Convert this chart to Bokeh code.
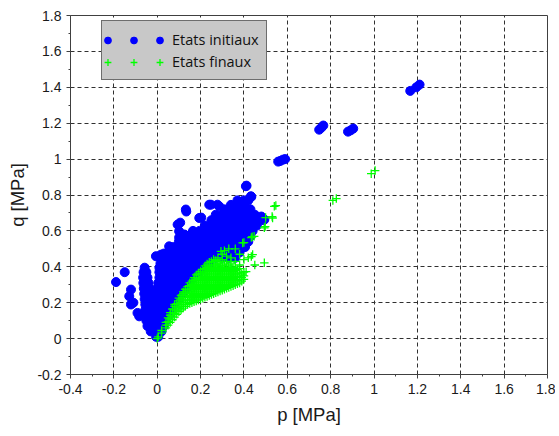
from bokeh.plotting import figure
from bokeh.models import (Range1d, FixedTicker, Legend, LegendItem,
                          CustomJSTickFormatter)
from bokeh.embed import file_html
from bokeh.resources import INLINE

# ---------------- ticks ----------------
x_ticks = [-0.4, -0.2, 0, 0.2, 0.4, 0.6, 0.8, 1, 1.2, 1.4, 1.6, 1.8]
x_minor = [-0.3, -0.1, 0.1, 0.3, 0.5, 0.7, 0.9, 1.1, 1.3, 1.5, 1.7]
y_ticks = [-0.2, 0, 0.2, 0.4, 0.6, 0.8, 1, 1.2, 1.4, 1.6, 1.8]
y_minor = [-0.1, 0.1, 0.3, 0.5, 0.7, 0.9, 1.1, 1.3, 1.5, 1.7]

series_names = ["Etats initiaux", "Etats finaux"]

# ---------------- "Etats initiaux" (blue) : dense cloud, row by row ----------------
blue_row_q = [0.01, 0.04, 0.07, 0.10, 0.13, 0.16, 0.19, 0.22, 0.25, 0.28, 0.31,
              0.34, 0.37, 0.395, 0.42, 0.45, 0.48, 0.51, 0.54, 0.57, 0.60, 0.63,
              0.66, 0.69, 0.72, 0.745, 0.77]
blue_row_p = [
    [-0.005, 0.005],
    [-0.03, 0.0, 0.02],
    [-0.045, -0.015, 0.015, 0.03],
    [-0.05, -0.02, 0.01, 0.04],
    [-0.055, -0.025, 0.005, 0.035, 0.055],
    [-0.055, -0.025, 0.005, 0.035, 0.065],
    [-0.055, -0.025, 0.005, 0.035, 0.065, 0.08],
    [-0.058, -0.028, 0.002, 0.032, 0.062, 0.09, 0.1],
    [-0.06, -0.03, 0.0, 0.03, 0.06, 0.09, 0.115],
    [-0.062, -0.035, 0.0, 0.03, 0.06, 0.09, 0.12, 0.135],
    [-0.064, -0.04, 0.005, 0.035, 0.065, 0.095, 0.125, 0.15],
    [-0.065, -0.045, 0.01, 0.04, 0.07, 0.1, 0.13, 0.16, 0.17],
    [-0.063, -0.05, 0.01, 0.04, 0.07, 0.1, 0.13, 0.16, 0.19],
    [-0.058, 0.01, 0.04, 0.07, 0.1, 0.13, 0.16, 0.19, 0.21],
    [0.015, 0.045, 0.075, 0.105, 0.135, 0.165, 0.195, 0.225, 0.24],
    [0.03, 0.06, 0.09, 0.12, 0.15, 0.18, 0.21, 0.24, 0.27, 0.30, 0.33, 0.36],
    [0.05, 0.08, 0.11, 0.14, 0.17, 0.20, 0.23, 0.26, 0.29, 0.32, 0.35, 0.38],
    [0.075, 0.105, 0.135, 0.165, 0.195, 0.225, 0.255, 0.285, 0.315, 0.345, 0.375, 0.405],
    [0.1, 0.13, 0.16, 0.19, 0.22, 0.25, 0.28, 0.31, 0.34, 0.37, 0.40, 0.42],
    [0.14, 0.17, 0.2, 0.23, 0.26, 0.29, 0.32, 0.35, 0.38, 0.41, 0.43],
    [0.165, 0.195, 0.225, 0.255, 0.285, 0.315, 0.345, 0.375, 0.405, 0.44],
    [0.22, 0.25, 0.28, 0.31, 0.34, 0.37, 0.40, 0.43, 0.46],
    [0.25, 0.28, 0.31, 0.34, 0.37, 0.40, 0.43, 0.46, 0.49],
    [0.27, 0.30, 0.33, 0.36, 0.39, 0.42, 0.45],
    [0.31, 0.34, 0.37, 0.40, 0.43],
    [0.34, 0.37, 0.40],
    [0.37, 0.40, 0.42],
]
# isolated blue states
blue_extra_p = [-0.19, -0.15, -0.121, -0.129, -0.121, -0.11, -0.091, -0.083,
                -0.006, 0.018, 0.032, 0.055,
                0.094, 0.101, 0.106, 0.101, 0.117, 0.125, 0.155,
                0.132, 0.134, 0.194, 0.203, 0.248,
                0.24, 0.248, 0.278, 0.286,
                0.409, 0.412, 0.432, 0.434, 0.447, 0.457, 0.48, 0.494,
                0.558, 0.568, 0.58, 0.59,
                0.747, 0.757, 0.766,
                0.88, 0.892, 0.904,
                1.167, 1.195, 1.21]
blue_extra_q = [0.315, 0.37, 0.273, 0.236, 0.19, 0.20, 0.143, 0.124,
                0.459, 0.468, 0.474, 0.514,
                0.635, 0.598, 0.646, 0.563, 0.57, 0.58, 0.58,
                0.719, 0.708, 0.672, 0.674, 0.626,
                0.746, 0.746, 0.746, 0.737,
                0.849, 0.852, 0.793, 0.79, 0.672, 0.674, 0.68, 0.663,
                0.986, 0.99, 0.997, 1.0,
                1.164, 1.175, 1.187,
                1.153, 1.16, 1.17,
                1.38, 1.40, 1.415]

# ---------------- "Etats finaux" (green) : dense band, column by column ----------------
green_col_p = [0.02, 0.04, 0.06, 0.08, 0.10, 0.12, 0.14, 0.16, 0.18, 0.20,
               0.22, 0.24, 0.26, 0.28, 0.30, 0.32, 0.34, 0.36, 0.38, 0.40]
green_col_q = [
    [0.03, 0.045],
    [0.06, 0.075, 0.09],
    [0.09, 0.11, 0.13, 0.145],
    [0.12, 0.14, 0.16, 0.18, 0.19],
    [0.15, 0.17, 0.19, 0.21, 0.225],
    [0.17, 0.19, 0.21, 0.23, 0.25, 0.26],
    [0.19, 0.21, 0.23, 0.25, 0.27, 0.29],
    [0.20, 0.22, 0.24, 0.26, 0.28, 0.30, 0.32],
    [0.21, 0.23, 0.25, 0.27, 0.29, 0.31, 0.33, 0.355],
    [0.22, 0.24, 0.26, 0.28, 0.30, 0.32, 0.34, 0.36, 0.375],
    [0.23, 0.25, 0.27, 0.29, 0.31, 0.33, 0.35, 0.37, 0.39, 0.405],
    [0.24, 0.26, 0.28, 0.30, 0.32, 0.34, 0.36, 0.38, 0.40, 0.425],
    [0.25, 0.27, 0.29, 0.31, 0.33, 0.35, 0.37, 0.39, 0.41, 0.44],
    [0.26, 0.28, 0.30, 0.32, 0.34, 0.36, 0.38, 0.40, 0.42, 0.45],
    [0.27, 0.29, 0.31, 0.33, 0.35, 0.37, 0.39, 0.41, 0.44, 0.47],
    [0.28, 0.30, 0.32, 0.34, 0.36, 0.38, 0.40, 0.43, 0.46],
    [0.29, 0.31, 0.33, 0.35, 0.37, 0.39, 0.42, 0.45],
    [0.30, 0.32, 0.34, 0.36, 0.38, 0.40, 0.43],
    [0.31, 0.33, 0.35, 0.37, 0.39, 0.41],
    [0.33, 0.35, 0.37],
]
# interleaved green states between the columns above
green_col2_p = [0.05, 0.07, 0.09, 0.11, 0.13, 0.15, 0.17, 0.19, 0.21, 0.23,
                0.25, 0.27, 0.29, 0.31, 0.33, 0.35, 0.37, 0.39]
green_col2_q = [
    [0.075, 0.095, 0.115],
    [0.105, 0.125, 0.145, 0.165],
    [0.135, 0.155, 0.175, 0.195],
    [0.16, 0.18, 0.20, 0.22, 0.24],
    [0.18, 0.20, 0.22, 0.24, 0.26, 0.275],
    [0.195, 0.215, 0.235, 0.255, 0.275, 0.295, 0.31],
    [0.205, 0.225, 0.245, 0.265, 0.285, 0.305, 0.325, 0.34],
    [0.215, 0.235, 0.255, 0.275, 0.295, 0.315, 0.335, 0.355, 0.365],
    [0.225, 0.245, 0.265, 0.285, 0.305, 0.325, 0.345, 0.365, 0.385],
    [0.235, 0.255, 0.275, 0.295, 0.315, 0.335, 0.355, 0.375, 0.395, 0.415],
    [0.245, 0.265, 0.285, 0.305, 0.325, 0.345, 0.365, 0.385, 0.405, 0.43],
    [0.255, 0.275, 0.295, 0.315, 0.335, 0.355, 0.375, 0.395, 0.415, 0.435],
    [0.265, 0.285, 0.305, 0.325, 0.345, 0.365, 0.385, 0.405, 0.43],
    [0.275, 0.295, 0.315, 0.335, 0.355, 0.375, 0.395, 0.42],
    [0.285, 0.305, 0.325, 0.345, 0.365, 0.385, 0.41],
    [0.295, 0.315, 0.335, 0.355, 0.375, 0.395],
    [0.305, 0.325, 0.345, 0.365, 0.385],
    [0.32, 0.34, 0.36],
]
green_extra_p = [0.0, 0.005, 0.294, 0.31, 0.33, 0.36, 0.38, 0.394, 0.40, 0.40, 0.42,
                 0.41, 0.434, 0.44, 0.45, 0.494, 0.434, 0.438, 0.447, 0.494, 0.498,
                 0.50, 0.53, 0.532, 0.54, 0.547, 0.81, 0.826, 0.987, 1.005]
green_extra_q = [0.0, 0.01, 0.486, 0.49, 0.5, 0.5, 0.47, 0.533, 0.535, 0.44, 0.45,
                 0.373, 0.457, 0.468, 0.41, 0.422, 0.563, 0.568, 0.57, 0.617, 0.624,
                 0.674, 0.68, 0.672, 0.737, 0.741, 0.77, 0.78, 0.919, 0.936]

blue_p = [v for row in blue_row_p for v in row] + blue_extra_p
blue_q = [q for q, row in zip(blue_row_q, blue_row_p) for _ in row] + blue_extra_q
green_p = ([p for p, col in zip(green_col_p, green_col_q) for _ in col]
           + [p for p, col in zip(green_col2_p, green_col2_q) for _ in col]
           + green_extra_p)
green_q = ([v for col in green_col_q for v in col]
           + [v for col in green_col2_q for v in col]
           + green_extra_q)

# ---------------- figure ----------------
p = figure(frame_width=477, frame_height=359,
           x_range=Range1d(-0.4, 1.8), y_range=Range1d(-0.2, 1.8),
           output_backend="svg", toolbar_location=None,
           min_border_left=70, min_border_right=8,
           min_border_top=15, min_border_bottom=52,
           x_axis_label="p [MPa]", y_axis_label="q [MPa]")
p.background_fill_color = "white"
p.border_fill_color = "white"
p.outline_line_color = "#404040"
p.outline_line_width = 1

fmt_code = "return tick.toFixed(1).replace(/\\.0$/, '');"
p.xaxis.ticker = FixedTicker(ticks=x_ticks, minor_ticks=x_minor)
p.yaxis.ticker = FixedTicker(ticks=y_ticks, minor_ticks=y_minor)
for ax in (p.xaxis, p.yaxis):
    ax.formatter = CustomJSTickFormatter(code=fmt_code)
    ax.axis_line_color = "#404040"
    ax.major_tick_line_color = "#404040"
    ax.minor_tick_line_color = "#404040"
    ax.major_tick_in = 0
    ax.major_tick_out = 4
    ax.minor_tick_in = 0
    ax.minor_tick_out = 2
    ax.major_label_text_font = "Liberation Sans"
    ax.major_label_text_font_size = "14px"
    ax.major_label_text_color = "#1a1a1a"
    ax.major_label_standoff = 5
    ax.axis_label_text_font = "Liberation Sans"
    ax.axis_label_text_font_size = "18.5px"
    ax.axis_label_text_font_style = "normal"
    ax.axis_label_text_color = "#1a1a1a"
p.xaxis.axis_label_standoff = 7
p.yaxis.axis_label_standoff = 6

p.grid.grid_line_color = "#303030"
p.grid.grid_line_dash = "4 3"
p.grid.grid_line_width = 1

r_blue = p.scatter(blue_p, blue_q, marker="circle", size=9,
                   fill_color="#0000FF", line_color="#0000FF")
r_green = p.scatter(green_p, green_q, marker="cross", size=8.5,
                    line_color="#00FF00", line_width=1.3)

# invisible renderer used only to carry the legend texts inside the grey box
r_dummy = p.scatter(x=[], y=[], marker="circle", fill_alpha=0, line_alpha=0)

leg_common = dict(padding=7, spacing=0, glyph_height=22, label_height=22,
                  margin=0, label_text_font="Open Sans",
                  label_text_font_size="14.5px", label_text_color="#111111")

legend_box = Legend(items=[LegendItem(label=series_names[0], renderers=[r_dummy]),
                           LegendItem(label=series_names[1], renderers=[r_dummy])],
                    location=(31, 294), glyph_width=50, label_standoff=13,
                    background_fill_color="#c8c8c8", background_fill_alpha=1,
                    border_line_color="#111111", border_line_width=1,
                    **leg_common)
p.add_layout(legend_box)

for lx in (21.5, 47.5, 73.5):
    lg = Legend(items=[LegendItem(label="", renderers=[r_blue]),
                       LegendItem(label="", renderers=[r_green])],
                location=(lx, 294), glyph_width=17, label_standoff=0,
                background_fill_alpha=0, border_line_alpha=0,
                **leg_common)
    p.add_layout(lg)

open("out.html", "w").write(file_html(p, INLINE))
